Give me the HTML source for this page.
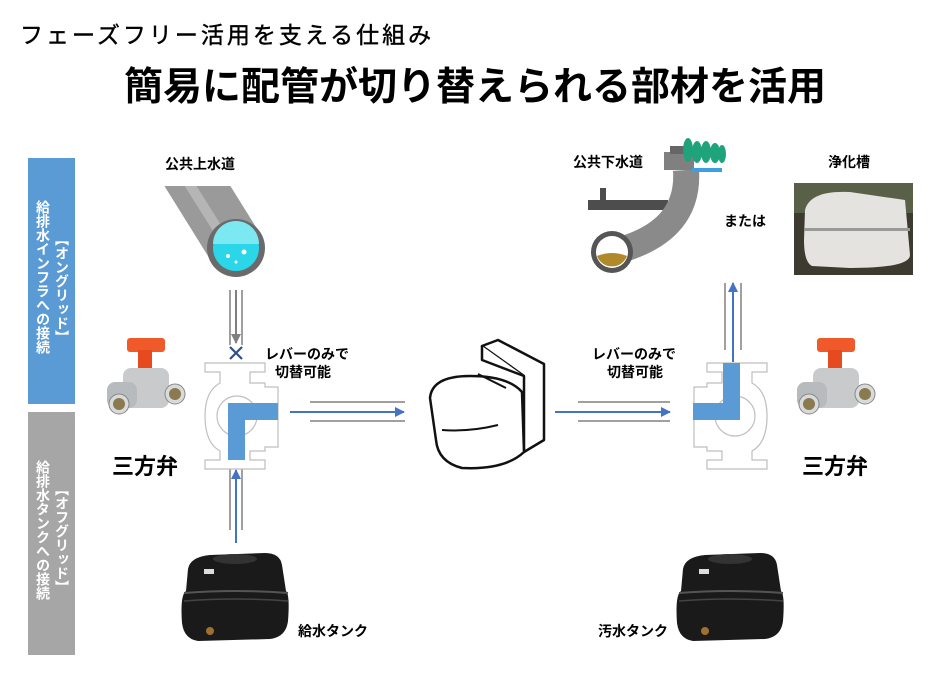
<!DOCTYPE html>
<html><head><meta charset="utf-8"><style>
html,body{margin:0;padding:0;background:#fff;}
svg{display:block;}
text{font-family:"Liberation Sans","Noto Sans CJK JP",sans-serif;}
</style></head><body>
<svg width="939" height="677" viewBox="0 0 939 677" xmlns="http://www.w3.org/2000/svg">
<defs>
<marker id="ab" markerWidth="10" markerHeight="10" refX="9" refY="5" orient="auto" markerUnits="userSpaceOnUse"><path d="M0,0 L10,5 L0,10 Z" fill="#4472c4"/></marker>
<marker id="ag" markerWidth="10" markerHeight="10" refX="9" refY="5" orient="auto" markerUnits="userSpaceOnUse"><path d="M0,0 L10,5 L0,10 Z" fill="#808080"/></marker>
<clipPath id="pc"><rect x="150" y="186" width="140" height="100"/></clipPath>
<g id="valve">
<path d="M0,0 H60 V9 H45 V20 H60 V24 H73 V84 H60 V88 H45 V97 H60 V106 H0 V97 H15 V88 Q0,80 0,53 Q0,28 15,20 V9 H0 Z" fill="#fff" stroke="#bfbfbf" stroke-width="1.2"/>
<circle cx="32" cy="53" r="20" fill="none" stroke="#bfbfbf" stroke-width="1.2"/>
</g>
<g id="tank">
<path d="M8,18 Q10,6 30,4 L85,2 Q100,2 102,14 L106,40 Q110,44 108,70 Q106,86 90,88 L18,90 Q4,88 2,72 Q0,44 6,40 Z" fill="#1a1a1a"/>
<ellipse cx="55" cy="8" rx="22" ry="5" fill="#333"/>
<path d="M4,42 Q55,38 108,42" stroke="#555" stroke-width="2" fill="none"/>
<path d="M4,50 Q55,46 108,50" stroke="#444" stroke-width="1.5" fill="none"/>
<rect x="24" y="18" width="10" height="5" fill="#ddd"/>
<circle cx="30" cy="80" r="4" fill="#a07030"/>
</g>
<g id="bv">
<rect x="22" y="0" width="38" height="14" rx="3" fill="#f05a2a"/>
<rect x="33" y="12" width="14" height="22" fill="#e84a20"/>
<rect x="18" y="30" width="46" height="40" rx="8" fill="#c8cacc"/>
<rect x="2" y="44" width="30" height="26" rx="8" fill="#b8bbbe"/>
<circle cx="14" cy="66" r="10" fill="#d9dadb" stroke="#888"/>
<circle cx="14" cy="66" r="6" fill="#8a7a50"/>
<circle cx="70" cy="56" r="10" fill="#d9dadb" stroke="#888"/>
<circle cx="70" cy="56" r="6" fill="#8a7a50"/>
</g>
</defs>

<text x="20" y="43" font-size="23" letter-spacing="3" fill="#000" stroke="#000" stroke-width="0.4">フェーズフリー活用を支える仕組み</text>
<text x="475" y="100" font-size="39" font-weight="bold" fill="#000" text-anchor="middle">簡易に配管が切り替えられる部材を活用</text>

<rect x="28" y="158" width="47" height="246" fill="#5b9bd5"/>
<rect x="28" y="412" width="47" height="243" fill="#a6a6a6"/>
<g font-size="14" font-weight="bold" fill="#fff">
<text x="43" y="200" style="writing-mode:vertical-rl">給排水インフラへの接続</text>
<text x="62" y="232" style="writing-mode:vertical-rl">【オングリッド】</text>
<text x="43" y="460" style="writing-mode:vertical-rl">給排水タンクへの接続</text>
<text x="62" y="482" style="writing-mode:vertical-rl">【オフグリッド】</text>
</g>

<text x="165" y="169" font-size="14" font-weight="bold">公共上水道</text>
<text x="573" y="167" font-size="14" font-weight="bold">公共下水道</text>
<text x="828" y="167" font-size="14" font-weight="bold">浄化槽</text>
<text x="724" y="226" font-size="14" font-weight="bold">または</text>

<g clip-path="url(#pc)">
<line x1="175" y1="150" x2="236" y2="248" stroke="#9a9a9a" stroke-width="56"/>
<line x1="168" y1="150" x2="222" y2="236" stroke="#b5b5b5" stroke-width="10"/>
</g>
<circle cx="236" cy="248" r="29" fill="#6a6a6a"/>
<circle cx="236" cy="248" r="23" fill="#2bd6e8"/>
<path d="M213,244 A23,23 0 0 1 259,244 Z" fill="#7be8f2"/>
<circle cx="228" cy="256" r="2" fill="#fff"/><circle cx="244" cy="252" r="2.5" fill="#fff"/><circle cx="236" cy="262" r="1.5" fill="#fff"/>

<path d="M588,200 h80 v10 h-80 z" fill="#4d4d4d"/>
<rect x="600" y="188" width="6" height="14" fill="#4d4d4d"/>
<path d="M686,170 Q690,230 620,250" stroke="#8a8a8a" stroke-width="26" fill="none"/>
<circle cx="612" cy="252" r="21" fill="#555"/>
<circle cx="612" cy="252" r="16" fill="#fff"/>
<path d="M597,256 Q612,250 627,256 A16,16 0 0 1 597,256 Z" fill="#b08a2a"/>
<rect x="664" y="152" width="30" height="18" fill="#808080"/>
<rect x="670" y="146" width="14" height="8" fill="#666"/>
<g fill="#1fa37a"><ellipse cx="688" cy="150" rx="5" ry="12"/><ellipse cx="697" cy="152" rx="5" ry="11"/><ellipse cx="706" cy="152" rx="5" ry="11"/><ellipse cx="715" cy="153" rx="5" ry="10"/><ellipse cx="722" cy="154" rx="4" ry="9"/></g>
<rect x="692" y="168" width="30" height="4" fill="#3aa0e0"/>

<rect x="794" y="183" width="119" height="92" fill="#3d3a30"/>
<rect x="794" y="183" width="119" height="30" fill="#5a6048"/>
<path d="M805,210 Q810,190 850,192 L905,200 L910,255 Q910,268 850,268 L812,266 Q804,262 804,240 Z" fill="#e4e3df"/>
<rect x="804" y="228" width="106" height="3" fill="#999"/>

<g stroke="#404040" stroke-width="1">
<line x1="230" y1="290" x2="230" y2="345"/><line x1="242" y1="290" x2="242" y2="345"/>
<line x1="230" y1="468" x2="230" y2="530"/><line x1="242" y1="468" x2="242" y2="530"/>
<line x1="310" y1="402" x2="405" y2="402"/><line x1="310" y1="421" x2="405" y2="421"/>
<line x1="578" y1="402" x2="670" y2="402"/><line x1="578" y1="421" x2="670" y2="421"/>
<line x1="725" y1="283" x2="725" y2="350"/><line x1="741" y1="283" x2="741" y2="350"/>
</g>
<line x1="236" y1="290" x2="236" y2="343" stroke="#808080" stroke-width="2" marker-end="url(#ag)"/>
<path d="M230,347 l12,12 M242,347 l-12,12" stroke="#2e4f8a" stroke-width="2.2"/>
<line x1="236" y1="543" x2="236" y2="470" stroke="#4472c4" stroke-width="2" marker-end="url(#ab)"/>
<line x1="290" y1="412" x2="404" y2="412" stroke="#4472c4" stroke-width="2" marker-end="url(#ab)"/>
<line x1="555" y1="412" x2="670" y2="412" stroke="#4472c4" stroke-width="2" marker-end="url(#ab)"/>
<line x1="733" y1="362" x2="733" y2="283" stroke="#4472c4" stroke-width="2" marker-end="url(#ab)"/>

<use href="#valve" x="205" y="363"/>
<path d="M228,460 V403 H278 V420 H245 V460 Z" fill="#5b9bd5"/>
<g transform="translate(767,363) scale(-1,1)"><use href="#valve"/></g>
<path d="M693,403 H723 V363 H740 V420 H693 Z" fill="#5b9bd5"/>

<use href="#bv" x="105" y="338"/>
<use href="#bv" x="795" y="338"/>

<text x="265" y="359" font-size="14" font-weight="bold">レバーのみで</text>
<text x="275" y="377" font-size="14" font-weight="bold">切替可能</text>
<text x="592" y="359" font-size="14" font-weight="bold">レバーのみで</text>
<text x="607" y="377" font-size="14" font-weight="bold">切替可能</text>
<text x="112" y="474" font-size="22" font-weight="bold">三方弁</text>
<text x="802" y="474" font-size="22" font-weight="bold">三方弁</text>

<g fill="#fff" stroke="#111" stroke-width="2.5" stroke-linejoin="round">
<path d="M482,346 L498,340 L544,364 L544,440 L524,452 L524,376 Z"/>
<path d="M482,346 L482,360 L524,376"/>
<path d="M430,398 Q432,376 470,376 Q508,376 522,392 L524,452 Q505,470 462,468 Q438,462 436,440 Z"/>
</g>
<path d="M442,430 Q470,432 498,425" stroke="#111" stroke-width="2" fill="none"/>
<path d="M478,374 L506,388" stroke="#111" stroke-width="2" fill="none"/>

<use href="#tank" x="180" y="551"/>
<use href="#tank" x="675" y="551"/>
<text x="298" y="636" font-size="14" font-weight="bold">給水タンク</text>
<text x="598" y="636" font-size="14" font-weight="bold">汚水タンク</text>
</svg>
</body></html>
